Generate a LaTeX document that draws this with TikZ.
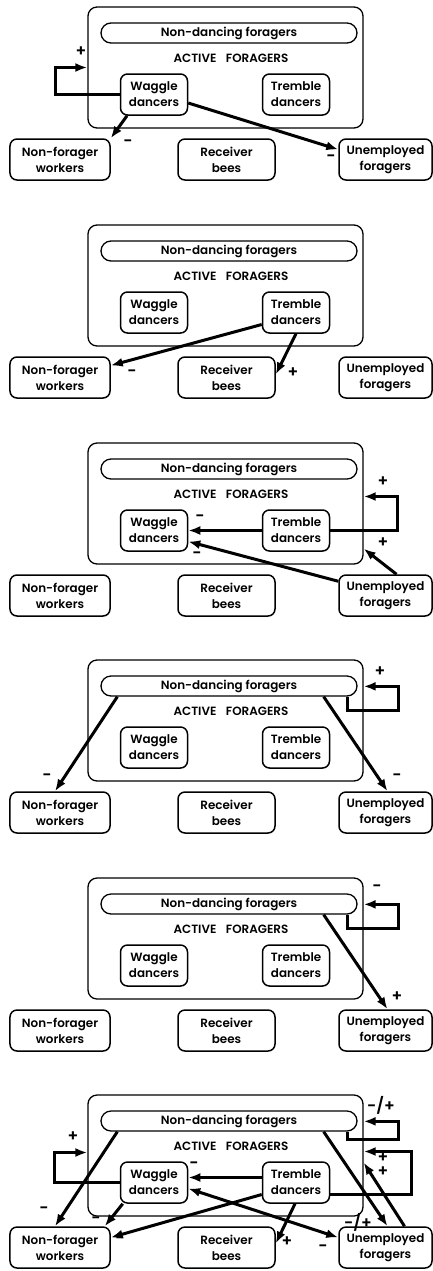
\documentclass[tikz,border=0pt]{standalone}
\usepackage{fontspec}
\setmainfont{Poppins}[BoldFont={* SemiBold}]
\usetikzlibrary{arrows.meta,calc}

\tikzset{
  hive/.style={draw, line width=1.3bp, rounded corners=9bp, minimum width=275bp, minimum height=121bp, inner sep=0pt},
  band/.style={draw, line width=1.3bp, rounded corners=10bp, minimum width=256bp, minimum height=20bp, inner sep=0pt},
  caste/.style={draw, line width=1.5bp, rounded corners=7bp, minimum width=67bp, minimum height=41bp, inner sep=1bp, align=center},
  group/.style={draw, line width=1.5bp, rounded corners=7bp, minimum height=41bp, inner sep=1bp, align=center},
  flow/.style={line width=3bp, -{Latex[length=12bp,width=9bp]}},
  twoway/.style={line width=3bp, {Latex[length=12bp,width=9bp]}-{Latex[length=12bp,width=9bp]}},
  sign/.style={font=\bfseries\fontsize{16}{16}\selectfont, inner sep=0pt}
}

% one panel of the colony: hive box and the five groups
\newcommand\beepanel[1]{%
  \node[hive] (#1box) at (225.5,60.5) {};
  \node[band] (#1nd) at (229,26) {Non-dancing foragers};
  \node (#1lab) at (231,51) {ACTIVE\hspace{0.8em}FORAGERS};
  \node[caste] (#1wag) at (154,87.5) {Waggle\\dancers};
  \node[caste] (#1trem) at (296,87.5) {Tremble\\dancers};
  \node[group, minimum width=100bp] (#1nonf) at (60,152.5) {Non-forager\\workers};
  \node[group, minimum width=97bp] (#1rec) at (226.5,152.5) {Receiver\\bees};
  \node[group, minimum width=93bp] (#1unemp) at (385.5,152.5) {Unemployed\\foragers};
}

\begin{document}
\begin{tikzpicture}[x=1bp, y=-1bp, font=\bfseries\fontsize{12}{16}\selectfont]
  \useasboundingbox (0,0) rectangle (433,1271);

  \begin{scope}[shift={(0,7)}]
    \beepanel{a}
    \draw[flow] (awag.west) -- ++(-64,0) |- (abox.west);
    \draw[flow] ($(awag.south)+(-27,0)$) -- (anonf.north east);
    \draw[flow] ($(awag.east)+(0,8.5)$) -- ($(aunemp.west)+(0,-10)$);
    \node[sign] (as1) at (81,45) {+};
    \node[sign] (as2) at (128,136) {-};
    \node[sign] (as3) at (331,151) {-};
  \end{scope}

  \begin{scope}[shift={(0,225)}]
    \beepanel{b}
    \draw[flow] ($(btrem.west)+(0,12)$) -- ($(bnonf.east)+(0,-12)$);
    \draw[flow] (btrem.south) -- ($(brec.east)+(0,-3)$);
    \node[sign] (bs1) at (132,148) {-};
    \node[sign] (bs2) at (293,148) {+};
  \end{scope}

  \begin{scope}[shift={(0,443)}]
    \beepanel{c}
    \draw[flow] (ctrem.west) -- (cwag.east);
    \draw[flow] (ctrem.east) -- ++(67,0) |- ($(cbox.east)+(0,-7)$);
    \draw[flow] ($(cunemp.north west)+(0,7)$) -- ($(cwag.east)+(0,11)$);
    \draw[flow] ($(cunemp.north)+(11,0)$) -- ($(cbox.south east)+(0,-16)$);
    \node[sign] (cs1) at (200,75) {-};
    \node[sign] (cs2) at (383,39) {+};
    \node[sign] (cs3) at (197,112) {-};
    \node[sign] (cs4) at (383,100) {+};
  \end{scope}

  \begin{scope}[shift={(0,660)}]
    \beepanel{d}
    \draw[flow] ($(dnd.south west)+(17,0)$) -- ($(dnonf.north)+(-5,0)$);
    \draw[flow] ($(dnd.south east)+(-34,0)$) -- ($(dunemp.north)+(2,0)$);
    \draw[flow] ($(dnd.south east)+(-10,0)$) -- ++(0,14) -- ++(51,0) |- ($(dbox.north east)+(0,27)$);
    \node[sign] (ds1) at (47,117) {-};
    \node[sign] (ds2) at (397,117) {-};
    \node[sign] (ds3) at (380,12) {+};
  \end{scope}

  \begin{scope}[shift={(0,878)}]
    \beepanel{e}
    \draw[flow] ($(end.south east)+(-10,0)$) -- ++(0,14) -- ++(51,0) |- ($(ebox.north east)+(0,27)$);
    \draw[flow] ($(end.south east)+(-34,0)$) -- ($(eunemp.north)+(2,0)$);
    \node[sign] (es1) at (377,10) {-};
    \node[sign] (es2) at (397,119) {+};
  \end{scope}

  \begin{scope}[shift={(0,1095)}]
    \beepanel{f}
    \draw[flow] (fwag.west) -- ++(-65,0) |- ($(fbox.west)+(0,-3)$);
    \draw[flow] ($(fnd.south west)+(17,0)$) -- ($(fnonf.north)+(-5,0)$);
    \draw[flow] ($(fwag.south west)+(3,0)$) -- ($(fnonf.north east)+(-6,0)$);
    \draw[flow] ($(ftrem.west)+(0,12)$) -- ($(fnonf.east)+(0,-10)$);
    \draw[flow] ($(ftrem.west)+(0,-5)$) -- ($(fwag.east)+(0,-5)$);
    \draw[flow] ($(ftrem.south)+(-1,0)$) -- ($(frec.east)+(0,-4)$);
    \draw[twoway] ($(fwag.east)+(0,6)$) -- ($(funemp.west)+(0,-10)$);
    \draw[flow] ($(fnd.south east)+(-34,0)$) -- ($(funemp.north)+(2,0)$);
    \draw[flow] ($(funemp.north)+(19,0)$) -- ($(fbox.east)+(0,7)$);
    \draw[flow] ($(ftrem.east)+(0,12)$) -- ++(81,0) |- ($(fbox.east)+(0,-4)$);
    \draw[flow] ($(fnd.south east)+(-10,0)$) -- ++(0,8) -- ++(51,0) |- ($(fbox.north east)+(0,27)$);
    \node[sign] (fs1) at (73,42) {+};
    \node[sign] (fs2) at (44,115) {-};
    \node[sign] (fs3) at (96,125) {-};
    \node[sign] (fs4) at (120,145) {-};
    \node[sign] (fs5) at (194,70) {-};
    \node[sign] (fs6) at (287,147) {+};
    \node[sign] (fs7) at (323,153) {-};
    \node[sign] (fs8) at (358,127) {-/+};
    \node[sign] (fs9) at (383,63) {+};
    \node[sign] (fs10) at (383,77) {+};
    \node[sign] (fs11) at (381,10) {-/+};
  \end{scope}
\end{tikzpicture}
\end{document}
